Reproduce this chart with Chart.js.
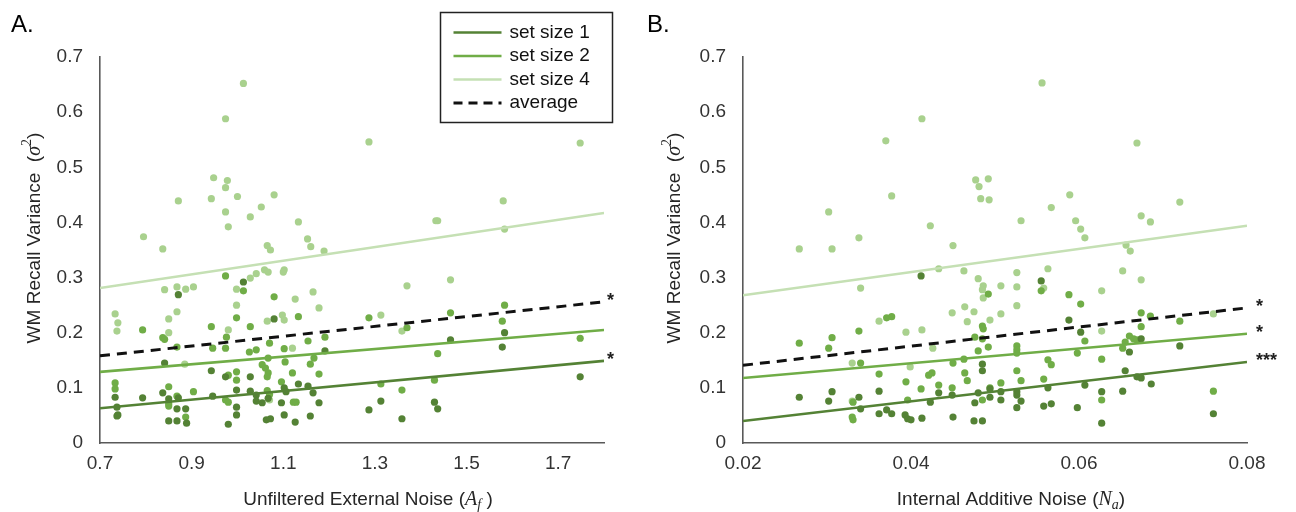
<!DOCTYPE html>
<html>
<head>
<meta charset="utf-8">
<script src="https://cdn.jsdelivr.net/npm/chart.js@4"></script>
<style>
  body { margin:0; background:#fff; width:1296px; height:512px; position:relative; overflow:hidden; }
  canvas { position:absolute; top:0; }
  #chartA { left:0; }
  #chartB { left:640px; }
</style>
</head>
<body>
<canvas id="chartA" width="640" height="512"></canvas>
<canvas id="chartB" width="656" height="512"></canvas>
<script>

//------------------------------------------------------------------
// data

var yTicks = [0, 0.1, 0.2, 0.3, 0.4, 0.5, 0.6, 0.7];
var yLabels = ['0', '0.1', '0.2', '0.3', '0.4', '0.5', '0.6', '0.7'];

var xTicksA = [0.7, 0.9, 1.1, 1.3, 1.5, 1.7];
var xLabelsA = ['0.7', '0.9', '1.1', '1.3', '1.5', '1.7'];
var xTicksB = [0.02, 0.04, 0.06, 0.08];
var xLabelsB = ['0.02', '0.04', '0.06', '0.08'];

var seriesNames = ['set size 1', 'set size 2', 'set size 4', 'average'];

// panel A : unfiltered external noise (Af) vs recall variance
var ptsA_set1 = [[0.871,0.269],[1.013,0.292],[1.080,0.225],[0.841,0.145],[0.943,0.131],[0.974,0.120],[1.028,0.120],
  [0.733,0.083],[0.793,0.082],[0.837,0.091],[0.85,0.080],[0.871,0.082],[0.946,0.085],[0.998,0.096],[1.028,0.094],
  [1.041,0.087],[1.102,0.100],[1.106,0.093],[1.133,0.107],[1.154,0.103],[1.165,0.091],[1.178,0.073],[0.737,0.065],
  [0.739,0.051],[0.737,0.049],[0.868,0.062],[0.887,0.062],[0.85,0.040],[0.868,0.040],[0.889,0.036],[0.98,0.034],
  [0.998,0.065],[0.998,0.051],[1.041,0.076],[1.054,0.073],[1.063,0.042],[1.072,0.044],[1.096,0.073],[1.102,0.051],
  [1.126,0.038],[1.159,0.049],[1.191,0.167],[1.465,0.187],[1.583,0.200],[1.578,0.174],[1.748,0.120],[1.313,0.076],
  [1.287,0.060],[1.359,0.044],[1.430,0.074],[1.437,0.062],[1.067,0.081]];
var ptsA_set2 = [[0.974,0.303],[1.013,0.276],[1.080,0.265],[1.133,0.229],[0.793,0.205],[0.943,0.211],[0.998,0.227],
  [1.028,0.211],[0.837,0.191],[0.841,0.188],[0.976,0.192],[0.868,0.174],[0.946,0.172],[0.974,0.172],[1.026,0.165],
  [1.041,0.169],[1.070,0.181],[1.154,0.185],[1.191,0.192],[1.102,0.171],[1.067,0.154],[1.104,0.147],[1.167,0.154],
  [1.159,0.143],[0.980,0.123],[0.998,0.129],[0.998,0.114],[1.054,0.142],[1.061,0.136],[1.067,0.127],[1.065,0.120],
  [1.096,0.111],[1.120,0.127],[1.178,0.125],[0.733,0.109],[0.733,0.098],[0.85,0.102],[0.868,0.085],[0.904,0.093],
  [0.974,0.078],[0.980,0.074],[1.122,0.074],[1.128,0.074],[0.85,0.067],[0.887,0.047],[1.287,0.227],[1.465,0.236],
  [1.583,0.250],[1.578,0.221],[1.370,0.209],[1.748,0.190],[1.437,0.162],[1.313,0.107],[1.359,0.096],[1.430,0.114],
  [0.85,0.071],[1.065,0.095],[1.070,0.088]];
var ptsA_set4 = [[1.013,0.652],[0.974,0.588],[0.948,0.481],[0.978,0.476],[0.974,0.463],[0.871,0.439],[0.943,0.443],
  [1.0,0.447],[1.080,0.450],[0.974,0.419],[1.052,0.428],[1.028,0.410],[0.98,0.392],[1.133,0.401],[0.795,0.374],
  [0.837,0.352],[1.153,0.370],[1.160,0.356],[1.065,0.358],[1.072,0.350],[1.189,0.348],[1.287,0.546],[1.748,0.544],
  [1.580,0.439],[1.433,0.403],[1.437,0.403],[1.583,0.388],[1.059,0.314],[1.067,0.310],[1.041,0.307],[1.028,0.299],
  [1.102,0.314],[1.100,0.310],[0.841,0.278],[0.868,0.283],[0.887,0.279],[0.904,0.283],[0.998,0.279],[1.165,0.274],
  [1.126,0.261],[1.178,0.245],[0.733,0.234],[0.739,0.218],[0.737,0.203],[0.868,0.238],[0.85,0.225],[0.998,0.250],
  [0.980,0.205],[0.85,0.200],[1.098,0.232],[1.102,0.223],[1.065,0.221],[0.885,0.143],[1.370,0.285],[1.465,0.296],
  [1.313,0.232],[1.359,0.203],[1.070,0.078],[1.120,0.172]];

// regression line values at x = 0.7 and x = 1.8
var fitA_x = [0.7, 1.8];
var fitA_set1 = [0.063, 0.149];
var fitA_set2 = [0.129, 0.205];
var fitA_set4 = [0.281, 0.417];
var fitA_avg  = [0.158, 0.256];
var starsA = ['*', '', '', '*'];   // set1, set2, set4, average

// panel B : internal additive noise (Na) vs recall variance
var ptsB_set1 = [[0.0267,0.083],[0.0306,0.093],[0.0302,0.076],[0.0338,0.083],[0.0362,0.094],[0.0340,0.062],
  [0.0362,0.053],[0.0371,0.060],[0.0377,0.053],[0.0393,0.051],[0.0396,0.044],[0.0400,0.042],[0.0413,0.045],
  [0.0423,0.074],[0.0433,0.091],[0.0449,0.087],[0.0450,0.047],[0.0476,0.073],[0.0475,0.040],[0.0485,0.040],
  [0.0480,0.091],[0.0485,0.143],[0.0485,0.131],[0.0494,0.083],[0.0555,0.294],[0.0588,0.223],[0.0602,0.201],
  [0.0660,0.165],[0.0674,0.189],[0.0720,0.176],[0.0655,0.131],[0.0669,0.120],[0.0674,0.118],[0.0686,0.107],
  [0.0494,0.098],[0.0507,0.093],[0.0507,0.078],[0.0526,0.093],[0.0526,0.087],[0.0531,0.076],[0.0526,0.064],
  [0.0563,0.100],[0.0558,0.067],[0.0567,0.071],[0.0607,0.105],[0.0598,0.064],[0.0627,0.093],[0.0627,0.036],
  [0.0652,0.094],[0.0760,0.053],[0.0412,0.303]];
var ptsB_set2 = [[0.0492,0.270],[0.0371,0.227],[0.0377,0.229],[0.0338,0.203],[0.0267,0.181],[0.0306,0.191],
  [0.0302,0.172],[0.0485,0.212],[0.0486,0.207],[0.0476,0.192],[0.0485,0.189],[0.0492,0.174],[0.0480,0.167],
  [0.0340,0.145],[0.0450,0.145],[0.0463,0.152],[0.0362,0.125],[0.0394,0.111],[0.0421,0.123],[0.0425,0.127],
  [0.0464,0.127],[0.0467,0.113],[0.0433,0.105],[0.0449,0.100],[0.0412,0.098],[0.0331,0.074],[0.0330,0.047],
  [0.0331,0.042],[0.0396,0.078],[0.0485,0.078],[0.0494,0.100],[0.0555,0.276],[0.0588,0.269],[0.0602,0.252],
  [0.0674,0.236],[0.0685,0.230],[0.0720,0.221],[0.0674,0.211],[0.0607,0.185],[0.0526,0.176],[0.0526,0.169],
  [0.0526,0.163],[0.0563,0.151],[0.0567,0.142],[0.0598,0.163],[0.0627,0.152],[0.0652,0.172],[0.0655,0.183],
  [0.0660,0.194],[0.0665,0.189],[0.0669,0.187],[0.0526,0.131],[0.0531,0.113],[0.0558,0.116],[0.0507,0.109],
  [0.0627,0.078],[0.0760,0.094]];
var ptsB_set4 = [[0.0413,0.588],[0.0370,0.548],[0.0377,0.448],[0.0302,0.419],[0.0423,0.394],[0.0338,0.372],
  [0.0267,0.352],[0.0306,0.352],[0.0450,0.358],[0.0556,0.653],[0.0669,0.544],[0.0477,0.477],[0.0492,0.479],
  [0.0481,0.465],[0.0483,0.443],[0.0493,0.441],[0.0589,0.450],[0.0567,0.427],[0.0531,0.403],[0.0596,0.403],
  [0.0602,0.388],[0.0607,0.372],[0.0674,0.412],[0.0685,0.401],[0.0720,0.437],[0.0656,0.359],[0.0661,0.348],
  [0.0433,0.316],[0.0463,0.312],[0.0340,0.281],[0.0480,0.298],[0.0486,0.285],[0.0485,0.278],[0.0486,0.263],
  [0.0449,0.236],[0.0464,0.247],[0.0475,0.238],[0.0362,0.221],[0.0467,0.220],[0.0494,0.223],[0.0394,0.201],
  [0.0413,0.205],[0.0330,0.145],[0.0426,0.172],[0.0399,0.138],[0.0526,0.309],[0.0526,0.283],[0.0526,0.249],
  [0.0563,0.316],[0.0558,0.281],[0.0507,0.285],[0.0507,0.234],[0.0652,0.312],[0.0674,0.296],[0.0627,0.276],
  [0.0627,0.203],[0.0760,0.234],[0.0330,0.076]];

// regression line values at x = 0.02 and x = 0.08
var fitB_x = [0.02, 0.08];
var fitB_set1 = [0.040, 0.147];
var fitB_set2 = [0.118, 0.198];
var fitB_set4 = [0.268, 0.394];
var fitB_avg  = [0.141, 0.245];
var starsB = ['***', '*', '', '*'];

//------------------------------------------------------------------
// styling

var col_set1 = '#548235';
var col_set2 = '#70ad47';
var col_set4 = '#a9d18e';
var col_set4_line = '#c5e0b4';
var SANS = '"Liberation Sans", Arial, sans-serif';
var SERIF = '"Liberation Serif", "DejaVu Serif", serif';

function toXY(arr){
    return arr.map(function(p){ return {x: p[0], y: p[1]}; });
}

function fitLine(xs, ys){
    return [{x: xs[0], y: ys[0]}, {x: xs[1], y: ys[1]}];
}

function pointSet(label, pts, color){
    return {
        label: label, data: toXY(pts),
        backgroundColor: color, borderColor: color,
        pointRadius: 3.6, pointBorderWidth: 0, showLine: false, order: 2
    };
}

function lineSet(label, data, color, dash){
    return {
        label: label, data: data, showLine: true,
        borderColor: color, borderWidth: dash ? 3 : 2.6,
        borderDash: dash || [], pointRadius: 0, fill: false, order: 1
    };
}

// draws a string made of several font runs, centred at x,y
function drawParts(ctx, parts, x, y, angle){
    ctx.save();
    ctx.translate(x, y);
    ctx.rotate(angle || 0);
    ctx.textBaseline = 'middle';
    ctx.textAlign = 'left';
    var total = 0;
    parts.forEach(function(p){ ctx.font = p.font; total += ctx.measureText(p.t).width; });
    var cx = -total / 2;
    parts.forEach(function(p){
        ctx.font = p.font;
        ctx.fillStyle = '#262626';
        ctx.fillText(p.t, cx, p.dy || 0);
        cx += ctx.measureText(p.t).width;
    });
    ctx.restore();
}

var yTitleParts = [
    {t: 'WM Recall Variance  (', font: '19px ' + SANS},
    {t: 'σ', font: 'italic 20px ' + SERIF},
    {t: '2', font: '14px ' + SERIF, dy: -8},
    {t: ')', font: '19px ' + SANS}
];

var panelText = {
    id: 'panelText',
    afterDraw: function(chart, args, opts){
        var ctx = chart.ctx;
        var area = chart.chartArea;

        ctx.save();
        ctx.fillStyle = '#000';
        ctx.font = '24px ' + SANS;
        ctx.textBaseline = 'alphabetic';
        ctx.fillText(opts.letter, opts.letterX, 32);
        ctx.restore();

        drawParts(ctx, yTitleParts, 35, 238, -Math.PI / 2);
        drawParts(ctx, opts.xTitle, (area.left + area.right) / 2 + 16, 500, 0);

        // significance stars at the right end of each fit line
        var xs = chart.scales.x, ys = chart.scales.y;
        ctx.save();
        ctx.fillStyle = '#222';
        ctx.font = 'bold 18px ' + SANS;
        ctx.textBaseline = 'middle';
        opts.fits.forEach(function(f, i){
            if(!opts.stars[i]) return;
            var px = xs.getPixelForValue(f[1].x);
            var py = ys.getPixelForValue(f[1].y);
            ctx.fillText(opts.stars[i], px + opts.starDx, py - 1);
        });
        ctx.restore();

        if(opts.legend){
            var L = opts.legend;
            ctx.save();
            ctx.strokeStyle = '#222';
            ctx.lineWidth = 1.5;
            ctx.strokeRect(L.x, L.y, L.w, L.h);
            var lineCols = [col_set1, col_set2, col_set4_line, '#111'];
            ctx.font = '19px ' + SANS;
            ctx.textBaseline = 'middle';
            for(var k = 0; k < seriesNames.length; k++){
                var ry = L.y + 20 + k * 23.5;
                ctx.beginPath();
                ctx.strokeStyle = lineCols[k];
                ctx.lineWidth = k == 3 ? 3 : 2.6;
                ctx.setLineDash(k == 3 ? [9, 6] : []);
                ctx.moveTo(L.x + 13, ry);
                ctx.lineTo(L.x + 61, ry);
                ctx.stroke();
                ctx.setLineDash([]);
                ctx.fillStyle = '#111';
                ctx.fillText(seriesNames[k], L.x + 69, ry);
            }
            ctx.restore();
        }
    }
};

function makeChart(id, cfg){
    var fits = [fitLine(cfg.fx, cfg.f1), fitLine(cfg.fx, cfg.f2), fitLine(cfg.fx, cfg.f4), fitLine(cfg.fx, cfg.fa)];
    return new Chart(document.getElementById(id), {
        type: 'scatter',
        data: {
            datasets: [
                lineSet(seriesNames[0], fits[0], col_set1),
                lineSet(seriesNames[1], fits[1], col_set2),
                lineSet(seriesNames[2], fits[2], col_set4_line),
                lineSet(seriesNames[3], fits[3], '#111', [10, 7]),
                pointSet(seriesNames[0], cfg.p1, col_set1),
                pointSet(seriesNames[1], cfg.p2, col_set2),
                pointSet(seriesNames[2], cfg.p4, col_set4)
            ]
        },
        options: {
            responsive: false,
            animation: false,
            layout: { padding: { left: 0, top: 57, right: cfg.padRight, bottom: 0 } },
            plugins: {
                legend: { display: false },
                tooltip: { enabled: false },
                panelText: {
                    letter: cfg.letter, letterX: cfg.letterX, xTitle: cfg.xTitle,
                    fits: fits, stars: cfg.stars, starDx: cfg.starDx, legend: cfg.legend
                }
            },
            scales: {
                x: {
                    type: 'linear', min: cfg.fx[0], max: cfg.fx[1],
                    grid: { display: false, drawTicks: false },
                    border: { display: true, color: '#595959', width: 1.6 },
                    afterBuildTicks: function(s){ s.ticks = cfg.xt.map(function(v){ return {value: v}; }); },
                    afterFit: function(s){ s.height = 69; },
                    ticks: {
                        padding: 9, color: '#333', font: { family: SANS, size: 19 },
                        maxRotation: 0, autoSkip: false,
                        callback: function(v, i){ return cfg.xl[i]; }
                    }
                },
                y: {
                    type: 'linear', min: 0, max: 0.7,
                    grid: { display: false, drawTicks: false },
                    border: { display: true, color: '#595959', width: 1.6 },
                    afterBuildTicks: function(s){ s.ticks = yTicks.map(function(v){ return {value: v}; }); },
                    afterFit: function(s){ s.width = cfg.yWidth; },
                    ticks: {
                        padding: 17, color: '#333', font: { family: SANS, size: 19 },
                        callback: function(v, i){ return yLabels[i]; }
                    }
                }
            }
        },
        plugins: [panelText]
    });
}

var chartA = makeChart('chartA', {
    p1: ptsA_set1, p2: ptsA_set2, p4: ptsA_set4,
    fx: fitA_x, f1: fitA_set1, f2: fitA_set2, f4: fitA_set4, fa: fitA_avg,
    xt: xTicksA, xl: xLabelsA, stars: starsA, starDx: 3,
    yWidth: 100, padRight: 36, letter: 'A.', letterX: 11,
    xTitle: [
        {t: 'Unfiltered External Noise (', font: '19px ' + SANS},
        {t: 'A', font: 'italic 20px ' + SERIF},
        {t: 'f', font: 'italic 14px ' + SERIF, dy: 5},
        {t: ' )', font: '19px ' + SANS}
    ],
    legend: {x: 440.5, y: 12.5, w: 172, h: 110}
});

var chartB = makeChart('chartB', {
    p1: ptsB_set1, p2: ptsB_set2, p4: ptsB_set4,
    fx: fitB_x, f1: fitB_set1, f2: fitB_set2, f4: fitB_set4, fa: fitB_avg,
    xt: xTicksB, xl: xLabelsB, stars: starsB, starDx: 9,
    yWidth: 103, padRight: 49, letter: 'B.', letterX: 7,
    xTitle: [
        {t: 'Internal Additive Noise (', font: '19px ' + SANS},
        {t: 'N', font: 'italic 20px ' + SERIF},
        {t: 'a', font: 'italic 14px ' + SERIF, dy: 5},
        {t: ')', font: '19px ' + SANS}
    ],
    legend: null
});

</script>
</body>
</html>
